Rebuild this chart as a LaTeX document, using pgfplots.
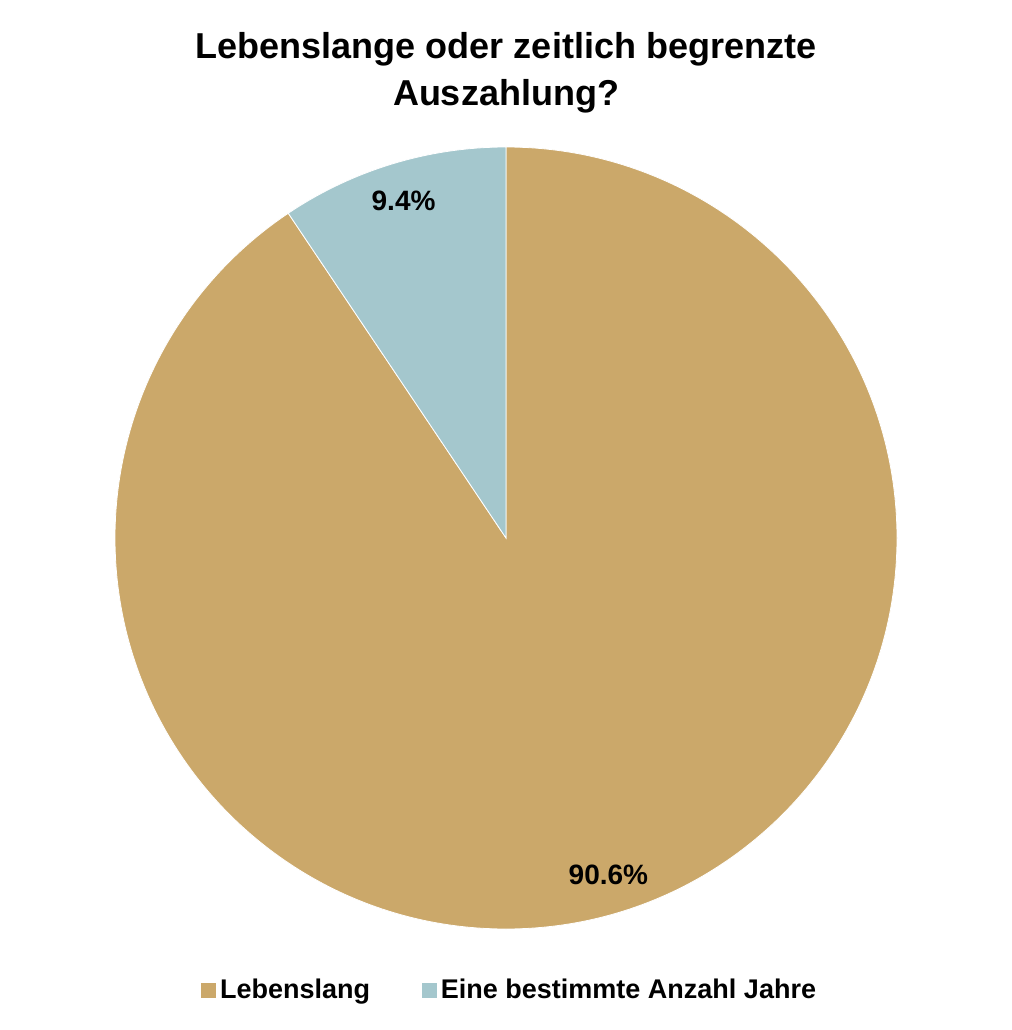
\documentclass[border=0pt]{standalone}
\usepackage{fontspec}
\setmainfont{Liberation Sans}
\usepackage{pgfplots}
\usepackage{pgfplotstable}
\pgfplotsset{compat=1.18}
\pgfkeys{/pgf/number format/assume math mode=true}

\definecolor{tanslice}{HTML}{CBA86A}
\definecolor{blueslice}{HTML}{A4C7CD}

% share of answers in percent
\pgfplotstableread{
label value
Lebenslang 90.6
Jahre 9.4
}\piedata

\pgfplotstablegetelem{0}{value}\of\piedata \let\va\pgfplotsretval
\pgfplotstablegetelem{1}{value}\of\piedata \let\vb\pgfplotsretval

\begin{document}
\begin{tikzpicture}[font=\bfseries]
\useasboundingbox (0,0) rectangle (506pt,515pt);
\begin{axis}[
  at={(253pt,246pt)}, anchor=center,
  scale only axis, width=391pt, height=391pt,
  xmin=-1, xmax=1, ymin=-1, ymax=1,
  axis lines=none, clip=false,
  legend columns=2,
  legend style={at={(0.506,-0.078)}, anchor=center, draw=none, fill=none,
    font=\fontsize{13.5}{16}\selectfont\bfseries,
    /tikz/every even column/.append style={column sep=24pt}},
  legend image code/.code={\fill[#1] (0pt,-3.5pt) rectangle (7pt,3.5pt);},
]
\addlegendimage{tanslice}\addlegendentry{Lebenslang}
\addlegendimage{blueslice}\addlegendentry{Eine bestimmte Anzahl Jahre}

\fill[tanslice, draw=white, line width=0.4pt] (axis cs:0,0) -- (axis cs:0,1)
  arc[start angle=90, end angle={90-3.6*\va}, radius=195.5pt] -- cycle;
\fill[blueslice, draw=white, line width=0.4pt] (axis cs:0,0) -- (axis cs:0,1)
  arc[start angle=90, end angle={90+3.6*\vb}, radius=195.5pt] -- cycle;

\node[font=\fontsize{14}{16}\selectfont\bfseries] at
  (axis cs:{0.9*cos(90-1.8*\va)},{0.9*sin(90-1.8*\va)}) {\pgfmathprintnumber[fixed,precision=1]{\va}\%};
\node[font=\fontsize{14}{16}\selectfont\bfseries] at
  (axis cs:{0.9*cos(90+1.8*\vb)},{0.9*sin(90+1.8*\vb)}) {\pgfmathprintnumber[fixed,precision=1]{\vb}\%};
\end{axis}
\node[anchor=base, font=\fontsize{18}{20}\selectfont\bfseries] at (253pt,485.5pt) {Lebenslange oder zeitlich begrenzte};
\node[anchor=base, font=\fontsize{18}{20}\selectfont\bfseries] at (253pt,462pt) {Auszahlung?};
\end{tikzpicture}
\end{document}
